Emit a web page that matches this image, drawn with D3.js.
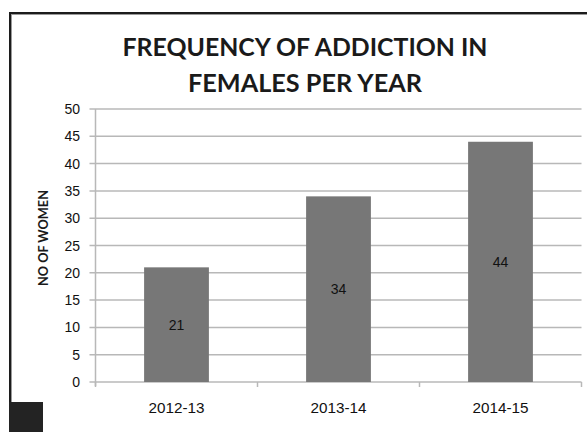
<!DOCTYPE html>
<html>
<head>
<meta charset="utf-8">
<script src="https://cdn.jsdelivr.net/npm/d3@7"></script>
<style>
html,body{margin:0;padding:0;background:#fff;}
svg{display:block;}
</style>
</head>
<body>
<script>
const categories = ["2012-13", "2013-14", "2014-15"];
const values = [21, 34, 44];
const yTicks = [0, 5, 10, 15, 20, 25, 30, 35, 40, 45, 50];
const titleLines = ["FREQUENCY OF ADDICTION IN", "FEMALES PER YEAR"];
const yAxisTitle = "NO OF WOMEN";

const W = 587, H = 432;
const svg = d3.select("body").append("svg").attr("width", W).attr("height", H);

// frame
svg.append("rect").attr("x", 9).attr("y", 12).attr("width", W).attr("height", 2).attr("fill", "#1c1c1c");
svg.append("rect").attr("x", 11).attr("y", 14).attr("width", W).attr("height", 1).attr("fill", "#9a9a9a");
svg.append("rect").attr("x", 9).attr("y", 12).attr("width", 2).attr("height", H).attr("fill", "#1c1c1c");
svg.append("rect").attr("x", 11).attr("y", 14).attr("width", 1).attr("height", H).attr("fill", "#9a9a9a");
svg.append("rect").attr("x", 9).attr("y", 402).attr("width", 34).attr("height", 30).attr("fill", "#232323");

const x0 = 95.5, x1 = 581.5, yTop = 109, yBot = 382;
const x = d3.scaleBand().domain(categories).range([x0, x1]).paddingInner(0.6).paddingOuter(0.3);
const y = d3.scaleLinear().domain([0, 50]).range([yBot, yTop]);

// gridlines
svg.append("g").selectAll("line").data(yTicks).join("line")
  .attr("x1", x0 - 6).attr("x2", x1)
  .attr("y1", d => y(d)).attr("y2", d => y(d))
  .attr("stroke", "#b8b8b8").attr("stroke-width", 1.5);

// y axis line
svg.append("line").attr("x1", x0).attr("x2", x0).attr("y1", yTop).attr("y2", yBot + 4)
  .attr("stroke", "#b8b8b8").attr("stroke-width", 1.5);

// x category boundary ticks
const bounds = d3.range(categories.length + 1).map(i => x0 + i * (x1 - x0) / categories.length);
svg.append("g").selectAll("line").data(bounds).join("line")
  .attr("x1", d => d).attr("x2", d => d).attr("y1", yBot).attr("y2", yBot + 5)
  .attr("stroke", "#b8b8b8").attr("stroke-width", 1.5);

// y tick labels
svg.append("g").selectAll("text").data(yTicks).join("text")
  .attr("x", 80).attr("y", d => y(d)).attr("dy", "0.36em")
  .attr("text-anchor", "end")
  .attr("font-family", "'Liberation Sans', Arial, sans-serif").attr("font-size", 14)
  .attr("fill", "#111")
  .text(d => d);

// bars
svg.append("g").selectAll("rect").data(values).join("rect")
  .attr("x", (d, i) => x(categories[i]))
  .attr("width", x.bandwidth())
  .attr("y", d => y(d))
  .attr("height", d => yBot - y(d))
  .attr("fill", "#777777");

// bar labels
svg.append("g").selectAll("text").data(values).join("text")
  .attr("x", (d, i) => x(categories[i]) + x.bandwidth() / 2)
  .attr("y", d => (y(d) + yBot) / 2).attr("dy", "0.36em")
  .attr("text-anchor", "middle")
  .attr("font-family", "'Liberation Sans', Arial, sans-serif").attr("font-size", 14)
  .attr("fill", "#111")
  .text(d => d);

// x labels
svg.append("g").selectAll("text").data(categories).join("text")
  .attr("x", d => x(d) + x.bandwidth() / 2)
  .attr("y", 408).attr("dy", "0.36em")
  .attr("text-anchor", "middle")
  .attr("font-family", "'Liberation Sans', Arial, sans-serif").attr("font-size", 14)
  .attr("fill", "#111")
  .attr("textLength", 56).attr("lengthAdjust", "spacingAndGlyphs")
  .text(d => d);

// title
const titleWidths = [365, 234];
svg.append("g").selectAll("text").data(titleLines).join("text")
  .attr("x", 305).attr("y", (d, i) => 56 + i * 36)
  .attr("text-anchor", "middle")
  .attr("font-family", "Lato, 'Open Sans', sans-serif").attr("font-weight", "bold").attr("font-size", 25)
  .attr("fill", "#1a1a1a")
  .attr("textLength", (d, i) => titleWidths[i]).attr("lengthAdjust", "spacingAndGlyphs")
  .text(d => d);

// y axis title
svg.append("text")
  .attr("transform", "translate(48,238) rotate(-90)")
  .attr("text-anchor", "middle")
  .attr("font-family", "Lato, 'Open Sans', sans-serif").attr("font-weight", "bold").attr("font-size", 14)
  .attr("fill", "#1a1a1a")
  .attr("textLength", 96).attr("lengthAdjust", "spacingAndGlyphs")
  .text(yAxisTitle);
</script>
</body>
</html>
